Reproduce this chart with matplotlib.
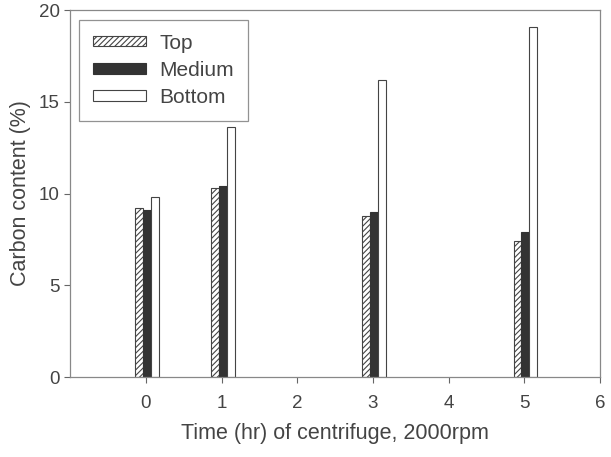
import numpy as np
import matplotlib.pyplot as plt

plt.rcParams['font.family'] = ['Liberation Sans', 'DejaVu Sans']
plt.rcParams['hatch.linewidth'] = 0.8
plt.rcParams['hatch.color'] = '#555555'

# data
times = [0, 1, 3, 5]
top = [9.2, 10.3, 8.8, 7.4]
medium = [9.1, 10.4, 9.0, 7.9]
bottom = [9.8, 13.6, 16.2, 19.1]

txt = '#444444'
edge = '#444444'
w = 0.105

fig = plt.figure(figsize=(6.11, 4.57), dpi=100)
ax = fig.add_axes([0.115, 0.175, 0.867, 0.803])

x = np.array(times)
ax.bar(x - 0.09, top, w, color='white', edgecolor=edge, hatch='//////', linewidth=0.8, label='Top')
ax.bar(x + 0.015, medium, w, color='#333333', edgecolor='#333333', linewidth=0.8, label='Medium')
ax.bar(x + 0.12, bottom, w, color='white', edgecolor=edge, linewidth=0.8, label='Bottom')

ax.set_xlim(-1, 6)
ax.set_ylim(0, 20)
ax.set_xticks(range(0, 7))
ax.set_yticks([0, 5, 10, 15, 20])
ax.tick_params(colors='#666666', labelcolor=txt, labelsize=13.5, length=4, width=0.8)
ax.tick_params(axis='x', pad=9)
for s in ax.spines.values():
    s.set_color('#888888')
    s.set_linewidth(0.9)

ax.set_xlabel('Time (hr) of centrifuge, 2000rpm', color=txt, fontsize=15.5, labelpad=8)
ax.set_ylabel('Carbon content (%)', color=txt, fontsize=15.5, labelpad=6)

leg = ax.legend(loc='upper left', bbox_to_anchor=(0.017, 0.973), borderaxespad=0,
                fontsize=15, frameon=True, fancybox=False, handlelength=2.55,
                handleheight=0.4, labelspacing=0.4, borderpad=0.65, handletextpad=0.65)
leg.get_frame().set_edgecolor('#777777')
leg.get_frame().set_linewidth(0.9)
for t in leg.get_texts():
    t.set_color(txt)

plt.savefig('out.png', dpi=100)
